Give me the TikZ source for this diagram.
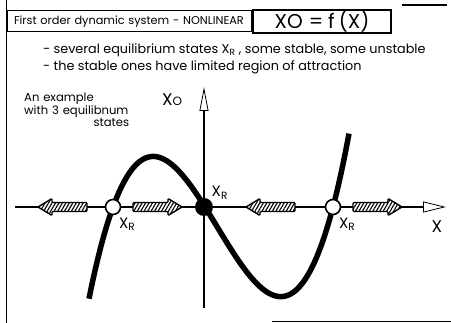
\documentclass[tikz,border=0pt]{standalone}
\usepackage{fontspec}
\setmainfont{Poppins}
\usetikzlibrary{positioning,arrows.meta,patterns.meta}

\tikzset{
  txt/.style={inner sep=0pt, font=\fontsize{12.8}{16}\selectfont},
  xr/.style={inner sep=0pt, font=\fontsize{15}{16}\selectfont},
  unstable/.style={circle, draw, line width=1.6pt, fill=white, minimum size=15pt, inner sep=0pt},
  stable/.style={circle, fill=black, minimum size=18pt, inner sep=0pt},
  hatch/.style={draw, line width=1.4pt, line join=round, rounded corners=1pt,
    fill=white, postaction={pattern={Lines[angle=60,distance=3pt,line width=1.1pt]}}},
  curve/.style={line width=5.5pt},
}
\newcommand{\flowarrow}[2]{%
  \draw[hatch, shift={(#1,207)}, xscale=#2]
    (0,-4.5) -- (35,-4.5) -- (35,-8.5) -- (49,0) -- (35,8.5) -- (35,4.5) -- (0,4.5) -- cycle;}

\begin{document}
\begin{tikzpicture}[x=1pt,y=-1pt]
\useasboundingbox (0,0) rectangle (451,323);

% frame pieces
\draw[line width=1.5pt] (6.5,0) -- (6.5,323);
\draw[line width=1.2pt] (402,5) -- (447,5);
\draw[line width=1.2pt] (272,321.5) -- (451,321.5);

% heading
\node[draw, line width=1pt, anchor=west, minimum height=21pt, text width=236pt,
  inner xsep=4pt, inner ysep=0pt, align=left, font=\fontsize{11.3}{15}\selectfont]
  (title) at (6.5,21.5) {\mbox{\hspace{3pt}First order dynamic system - NONLINEAR}};
\node[draw, line width=2pt, anchor=west, minimum width=138pt, minimum height=23pt,
  inner sep=0pt, font=\fontsize{20}{20}\selectfont] (formula) at (252,21.5)
  {XO\hspace{6pt}=\hspace{5pt}f\hspace{4pt}(X)};

\node[txt, anchor=west] (note1) at (43,50)
  {- several equilibrium states X\textsubscript{R} , some stable, some unstable};
\node[txt, anchor=west] (note2) at (43,67)
  {- the stable ones have limited region of attraction};

\node[anchor=north west, inner sep=0pt, text width=105pt, align=left,
  font=\fontsize{11.6}{12.5}\selectfont] (example) at (24,93)
  {\mbox{An example}\\\mbox{with 3 equilibnum}\\\hspace*{0pt plus 1fill}states};

% axes
\draw[line width=1.6pt, -{Triangle[open, length=23pt, width=11pt, line width=0.8pt]}]
  (15,207) -- (446,207);
\draw[line width=1.4pt, -{Triangle[open, length=24pt, width=9pt, line width=0.8pt]}]
  (204,308) -- (204,87);
\node[xr, font=\fontsize{17}{18}\selectfont] (xlabel) at (437,227) {X};
\node[xr, font=\fontsize{17}{18}\selectfont] (ylabel) at (172,100)
  {X\raisebox{0.5pt}{\fontsize{12}{12}\selectfont O}};

% the characteristic
\draw[curve] plot[domain=89:349, samples=120]
  (\x, {207 - 0.135*((\x-113)/10)*((\x-205)/10)*((\x-333)/10)});

% flow along the axis
\flowarrow{87}{-1}
\flowarrow{133}{1}
\flowarrow{295}{-1}
\flowarrow{353}{1}

% equilibrium states
\node[unstable] (e1) at (113,207) {};
\node[stable] (e2) at (204,207) {};
\node[unstable] (e3) at (333,207) {};
\node[xr, below right=5pt and 0pt of e1] (r1) {X\textsubscript{R}};
\node[xr, above right=1pt and 1pt of e2] (r2) {X\textsubscript{R}};
\node[xr, below right=5pt and 0pt of e3] (r3) {X\textsubscript{R}};
\end{tikzpicture}
\end{document}
